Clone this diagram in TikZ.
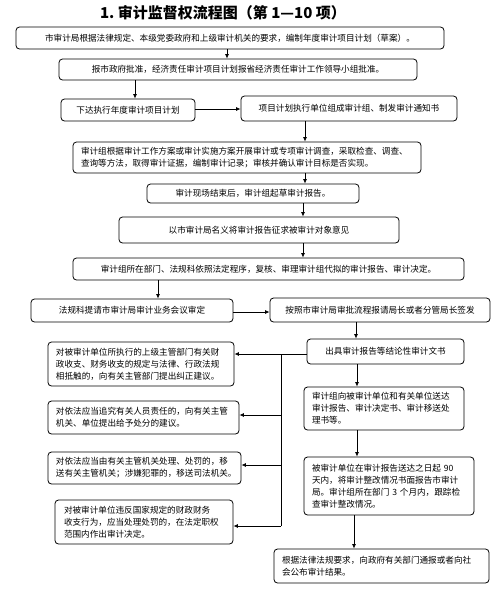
\documentclass[tikz,border=0pt]{standalone}
\usepackage{fontspec}
\newfontfamily\cjk{Noto Sans CJK SC}
\usetikzlibrary{arrows.meta}
\tikzset{
  box/.style={draw=black, line width=0.8pt, rounded corners=3.5pt, inner ysep=0pt,
    font=\cjk\fontsize{8.6}{12}\selectfont},
  cbox/.style={box, align=center},
  lbox/.style={box, align=left},
  arr/.style={line width=0.8pt, -{Latex[length=4.5pt,width=4pt]}},
  ln/.style={line width=0.8pt}
}
\begin{document}
\begin{tikzpicture}[x=1pt,y=-1pt]
\useasboundingbox[fill=white] (0,0) rectangle (497,603);
\node[font=\cjk\bfseries\fontsize{15}{17}\selectfont] (title) at (223,13) {1.\ 审计监督权流程图（第 1—10 项）};

\node[cbox, minimum width=428, minimum height=22] (b1) at (230,38) {市审计局根据法律规定、本级党委政府和上级审计机关的要求，编制年度审计项目计划（草案）。};
\node[cbox, minimum width=358, minimum height=21] (b2) at (238,69.5) {报市政府批准，经济责任审计项目计划报省经济责任审计工作领导小组批准。};
\node[cbox, minimum width=134, minimum height=22] (b3) at (128,110) {下达执行年度审计项目计划};
\node[cbox, minimum width=216, minimum height=25] (b4) at (349,108.5) {项目计划执行单位组成审计组、制发审计通知书};
\node[lbox, text width=332, inner xsep=8pt, minimum height=31] (b5) at (247,157.5) {审计组根据审计工作方案或审计实施方案开展审计或专项审计调查，采取检查、调查、\\查询等方法，取得审计证据，编制审计记录；审核并确认审计目标是否实现。};
\node[cbox, minimum width=212, minimum height=19] (b6) at (253,193.5) {审计现场结束后，审计组起草审计报告。};
\node[cbox, minimum width=280, minimum height=26] (b7) at (259,230) {以市审计局名义将审计报告征求被审计对象意见};
\node[cbox, minimum width=391, minimum height=22] (b8) at (268.5,269) {审计组所在部门、法规科依照法定程序，复核、审理审计组代拟的审计报告、审计决定。};
\node[cbox, minimum width=202, minimum height=23] (b9) at (132,310.5) {法规科提请市审计局审计业务会议审定};
\node[cbox, minimum width=220, minimum height=24] (b10) at (380,310) {按照市审计局审批流程报请局长或者分管局长签发};
\node[cbox, minimum width=157, minimum height=25] (b11) at (385.5,351.5) {出具审计报告等结论性审计文书};
\node[lbox, text width=144, inner xsep=8pt, minimum height=43] (b12) at (384,408.5) {审计组向被审计单位和有关单位送达\\审计报告、审计决定书、审计移送处\\理书等。};
\node[lbox, text width=154, inner xsep=8pt, minimum height=58] (b13) at (389,486) {被审计单位在审计报告送达之日起 90\\天内，将审计整改情况书面报告市审计\\局。审计组所在部门 3 个月内，跟踪检\\查审计整改情况。};
\node[lbox, text width=199, inner xsep=8pt, minimum height=34] (b14) at (381.5,566) {根据法律法规要求，向政府有关部门通报或者向社\\会公布审计结果。};

\node[lbox, text width=170, inner xsep=8pt, minimum height=44] (l1) at (141,364) {对被审计单位所执行的上级主管部门有关财\\政收支、财务收支的规定与法律、行政法规\\相抵触的，向有关主管部门提出纠正建议。};
\node[lbox, text width=175, inner xsep=8pt, minimum height=33] (l2) at (143.5,417.5) {对依法应当追究有关人员责任的，向有关主管\\机关、单位提出给予处分的建议。};
\node[lbox, text width=177, inner xsep=8pt, minimum height=32] (l3) at (144.5,468) {对依法应当由有关主管机关处理、处罚的，移\\送有关主管机关；涉嫌犯罪的，移送司法机关。};
\node[lbox, text width=160, inner xsep=9pt, minimum height=44] (l4) at (144,522) {对被审计单位违反国家规定的财政财务\\收支行为，应当处理处罚的，在法定职权\\范围内作出审计决定。};

\draw[arr] (227,0 |- b1.south) -- (227,0 |- b2.north);
\draw[arr] (135,0 |- b2.south) -- (135,0 |- b3.north);
\draw[arr] (b3.east |- 0,109) -- (b4.west |- 0,109);
\draw[arr] (305,0 |- b4.south) -- (305,0 |- b5.north);
\draw[arr] (305,0 |- b5.south) -- (305,0 |- b6.north);
\draw[arr] (303,0 |- b6.south) -- (303,0 |- b7.north);
\draw[arr] (303,0 |- b7.south) -- (303,0 |- b8.north);
\draw[arr] (158,0 |- b8.south) -- (158,0 |- b9.north);
\draw[arr] (b9.east |- 0,312) -- (b10.west |- 0,312);
\draw[arr] (356,0 |- b10.south) -- (356,0 |- b11.north);
\draw[arr] (357,0 |- b11.south) -- (357,0 |- b12.north);
\draw[arr] (357,0 |- b12.south) -- (357,0 |- b13.north);
\draw[arr] (354,0 |- b13.south) -- (354,0 |- b14.north);

\coordinate (vt) at (281,354);
\coordinate (vb) at (281,526);
\draw[arr] (b11.west |- vt) -- (l1.east |- vt);
\draw[ln] (vt) -- (vb);
\draw[arr] (281,415) -- (l2.east |- 0,415);
\draw[arr] (281,465) -- (l3.east |- 0,465);
\draw[arr] (vb) -- (l4.east |- vb);
\end{tikzpicture}
\end{document}
